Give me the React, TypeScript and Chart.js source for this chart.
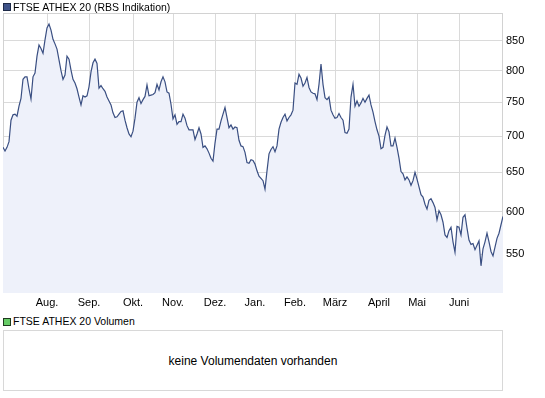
import React, { useEffect, useRef } from "react";
import { Chart, registerables } from "chart.js";

Chart.register(...registerables);

const seriesName = "FTSE ATHEX 20 (RBS Indikation)";
const volumeName = "FTSE ATHEX 20 Volumen";
const noVolumeText = "keine Volumendaten vorhanden";

// Daily index values (one per trading day, July -> early July)
const closeValues: number[] = [
  684, 679, 684, 692, 723, 731, 732, 729, 744, 756,
  786, 790, 790, 771, 755, 790, 796, 824, 843, 837,
  829, 852, 873, 880, 869, 853, 845, 836, 818, 800,
  786, 793, 824, 819, 801, 786, 780, 771, 758, 746,
  760, 758, 760, 774, 798, 813, 819, 812, 772, 776,
  771, 767, 758, 752, 746, 734, 727, 728, 732, 736,
  737, 723, 712, 703, 699, 707, 726, 750, 757, 748,
  754, 759, 777, 760, 761, 762, 765, 778, 769, 782,
  790, 782, 766, 764, 747, 725, 731, 717, 721, 721,
  732, 726, 715, 709, 709, 709, 695, 703, 712, 703,
  684, 686, 682, 676, 669, 665, 690, 710, 710, 722,
  732, 742, 727, 712, 716, 710, 713, 712, 694, 686,
  685, 677, 663, 662, 667, 666, 661, 652, 645, 642,
  639, 628, 652, 675, 681, 685, 678, 686, 710, 720,
  727, 732, 722, 727, 731, 738, 780, 778, 794, 788,
  775, 780, 789, 773, 766, 764, 763, 754, 778, 811,
  778, 757, 754, 758, 738, 731, 726, 727, 733, 727,
  723, 705, 704, 710, 758, 778, 744, 752, 744, 749,
  756, 750, 756, 761, 746, 735, 721, 709, 700, 682,
  684, 701, 713, 706, 686, 686, 697, 684, 669, 651,
  648, 640, 644, 640, 633, 639, 650, 641, 631, 621,
  618, 609, 603, 614, 616, 611, 605, 590, 601, 596,
  587, 572, 569, 577, 581, 564, 552, 582, 581, 572,
  593, 596, 580, 566, 561, 562, 555, 560, 565, 537,
  556, 564, 574, 564, 553, 548, 558, 568, 574, 584, 594,
];

const monthLabels = ["Aug.", "Sep.", "Okt.", "Nov.", "Dez.", "Jan.", "Feb.", "März", "April", "Mai", "Juni"];
const monthStartIndex = [22, 43, 65, 85, 106, 126, 146, 166, 188, 207, 228];
const yTickValues = [550, 600, 650, 700, 750, 800, 850];
const yMin = 508;
const yMax = 900;

const LINE = "#3a4f82";
const FILL = "#eef1fa";
const GRID = "#dadada";
const FRAME = "#d2d2d2";
const FONT_FAMILY = '"Liberation Sans", Arial, sans-serif';

export default function App() {
  const canvasRef = useRef<HTMLCanvasElement | null>(null);

  useEffect(() => {
    const canvas = canvasRef.current;
    if (!canvas) return;
    const framePlugin = {
      id: "frame",
      beforeDatasetsDraw(chart: any) {
        const { ctx, chartArea: a } = chart;
        ctx.save();
        ctx.strokeStyle = FRAME;
        ctx.lineWidth = 1;
        ctx.strokeRect(Math.round(a.left) + 0.5, Math.round(a.top) + 0.5, Math.round(a.right - a.left) - 1, Math.round(a.bottom - a.top) - 1);
        ctx.restore();
      },
    };
    const chart = new Chart(canvas, {
      type: "line",
      data: {
        datasets: [
          {
            label: seriesName,
            data: closeValues.map((v, i) => ({ x: i, y: v })),
            borderColor: LINE,
            borderWidth: 1.2,
            backgroundColor: FILL,
            fill: "start",
            pointRadius: 0,
            tension: 0,
          },
        ],
      },
      options: {
        animation: false,
        responsive: false,
        maintainAspectRatio: false,
        layout: { padding: { left: 3, top: 13, right: 0, bottom: 0 } },
        plugins: { legend: { display: false }, tooltip: { enabled: false } },
        scales: {
          x: {
            type: "linear",
            min: 0,
            max: closeValues.length - 1,
            grid: { color: GRID, drawTicks: false },
            border: { display: false },
            ticks: {
              autoSkip: false,
              maxRotation: 0,
              padding: 3,
              color: "#000",
              font: { family: FONT_FAMILY, size: 11 },
              callback: (_v: any, idx: number) => monthLabels[idx],
            },
            afterBuildTicks: (s: any) => {
              s.ticks = monthStartIndex.map((v) => ({ value: v }));
            },
            afterFit: (s: any) => {
              s.height = 17;
            },
          },
          y: {
            type: "logarithmic",
            position: "right",
            min: yMin,
            max: yMax,
            grid: { color: GRID, drawTicks: false },
            border: { display: false },
            ticks: {
              padding: 3,
              color: "#000",
              font: { family: FONT_FAMILY, size: 11 },
              callback: (v: any) => String(v),
            },
            afterBuildTicks: (s: any) => {
              s.ticks = yTickValues.map((v) => ({ value: v }));
            },
            afterFit: (s: any) => {
              s.width = 42;
            },
          },
        },
      } as any,
      plugins: [framePlugin],
    });
    return () => chart.destroy();
  }, []);

  const textStyle: React.CSSProperties = {
    position: "absolute",
    fontFamily: FONT_FAMILY,
    fontSize: 10.5,
    lineHeight: "13px",
    color: "#000",
    whiteSpace: "nowrap",
  };

  return (
    <div style={{ position: "absolute", left: 0, top: 0, width: 545, height: 398, background: "#fff", overflow: "hidden" }}>
      <canvas ref={canvasRef} width={545} height={310} style={{ position: "absolute", left: 0, top: 0, width: 545, height: 310 }} />
      <div style={{ position: "absolute", left: 3, top: 3, width: 6, height: 6, background: "#3e5288", border: "1px solid #1e2a48" }} />
      <div style={{ ...textStyle, left: 13, top: 1 }}>{seriesName}</div>
      <div style={{ position: "absolute", left: 3, top: 318, width: 6, height: 6, background: "#66cc66", border: "1px solid #1e3a1e" }} />
      <div style={{ ...textStyle, left: 13, top: 315 }}>{volumeName}</div>
      <div
        style={{
          position: "absolute",
          left: 3,
          top: 330,
          width: 498,
          height: 59,
          border: "1px solid #d8d8d8",
          display: "flex",
          alignItems: "center",
          justifyContent: "center",
          fontFamily: FONT_FAMILY,
          fontSize: 12,
          color: "#000",
        }}
      >
        {noVolumeText}
      </div>
    </div>
  );
}
